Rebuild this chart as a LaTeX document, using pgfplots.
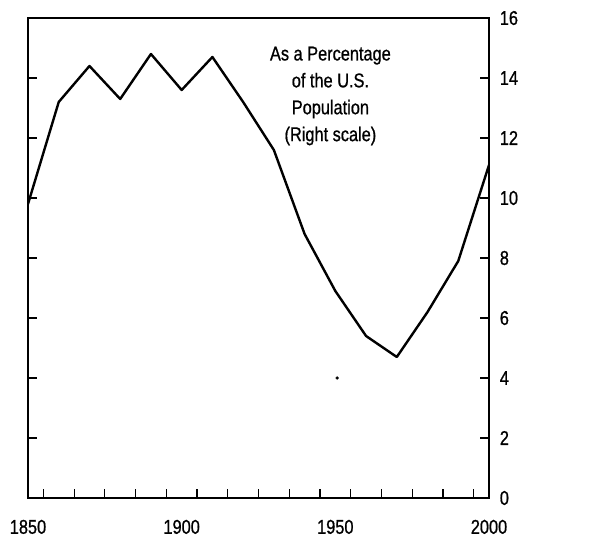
\documentclass[border=0pt]{standalone}
\usepackage{fontspec}
\setmainfont{Liberation Sans}[FakeStretch=0.82, FakeBold=0.8]
\usepackage{pgfplots}
\pgfplotsset{compat=1.18}
\begin{document}
\fontsize{20}{22}\selectfont
\begin{tikzpicture}
\begin{axis}[name=ax, scale only axis, width=461bp, height=480bp,
  xmin=1850, xmax=2000, ymin=0, ymax=16,
  axis line style={line width=1.7bp},
  every tick/.style={black, line width=1.2bp},
  tick align=inside, major tick length=9bp,
  xtick={1855,1865,...,1995}, xticklabels={},
  extra x ticks={1850,1900,1950,2000},
  extra x tick labels={1850,1900,1950,2000},
  extra x tick style={major tick length=0pt, xticklabel style={yshift=-15bp}},
  xtick pos=bottom,
  ytick={0,2,...,16},
  ytick pos=both, yticklabel pos=right,
  yticklabel style={xshift=4bp},
  /pgf/number format/assume math mode=true,
  tick label style={font=\fontsize{20}{22}\selectfont},
]
\addplot[black, line width=2.4bp, line join=round] coordinates {
(1850,9.8) (1860,13.2) (1870,14.4) (1880,13.3) (1890,14.8) (1900,13.6)
(1910,14.7) (1920,13.2) (1930,11.6) (1940,8.8) (1950,6.9) (1960,5.4)
(1970,4.7) (1980,6.2) (1990,7.9) (2000,11.1)};
\addplot[only marks, mark=*, mark size=1.4bp, black] coordinates {(1950.6,4.0)};
\node[align=center, font=\fontsize{20}{27}\selectfont] at (axis cs:1948.4,13.4)
  {As a Percentage\\of the U.S.\\Population\\(Right scale)};
\end{axis}
\path ([shift={(-28bp,-37bp)}]ax.south west) ([shift={(113bp,18bp)}]ax.north east);
\end{tikzpicture}
\end{document}
